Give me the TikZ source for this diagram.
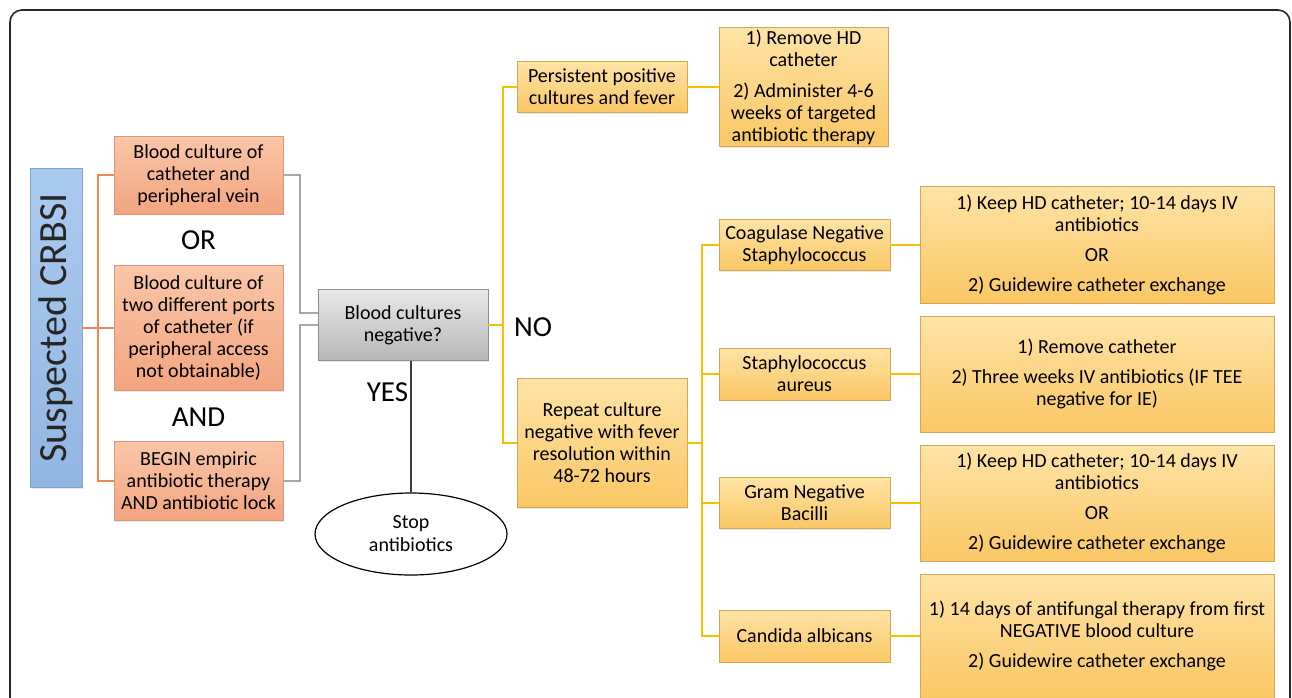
\documentclass[tikz,border=0pt]{standalone}
\usepackage{fontspec}
\setmainfont{Carlito}
\usetikzlibrary{shapes.geometric,shadows,calc}
\definecolor{bluefillA}{HTML}{AACBEE}
\definecolor{bluefillB}{HTML}{92B6E2}
\definecolor{blueline}{HTML}{7FA3CF}
\definecolor{orfillA}{HTML}{F9C6A8}
\definecolor{orfillB}{HTML}{F3A47F}
\definecolor{orline}{HTML}{D9977A}
\definecolor{orconn}{HTML}{EC8A50}
\definecolor{gyfillA}{HTML}{E8E8E8}
\definecolor{gyfillB}{HTML}{B6B6B6}
\definecolor{gyline}{HTML}{8E8E8E}
\definecolor{gyconn}{HTML}{A8A8A8}
\definecolor{ylfillA}{HTML}{FFE3A6}
\definecolor{ylfillB}{HTML}{FAC764}
\definecolor{ylline}{HTML}{CFA95A}
\definecolor{ylconn}{HTML}{F5C000}
\definecolor{darkline}{HTML}{3C3C3C}
\tikzset{
  boxtext/.style={font=\fontsize{20}{22}\selectfont, align=center, inner sep=0pt, text=black},
  basebox/.style={boxtext, rectangle, line width=0.8pt,
     drop shadow={opacity=0.18, shadow xshift=1.2pt, shadow yshift=-1.2pt}},
  bluebox/.style={basebox, draw=blueline, top color=bluefillA, bottom color=bluefillB},
  orbox/.style={basebox, draw=orline, top color=orfillA, bottom color=orfillB, minimum width=169},
  gybox/.style={basebox, draw=gyline, top color=gyfillA, bottom color=gyfillB},
  ylbox/.style={basebox, draw=ylline, top color=ylfillA, bottom color=ylfillB},
  smallyl/.style={ylbox, minimum width=171, minimum height=51},
  bigyl/.style={ylbox, minimum width=354},
  bigword/.style={font=\fontsize{29}{32}\selectfont, inner sep=0pt, text=black},
  orlink/.style={draw=orconn, line width=2pt},
  gylink/.style={draw=gyconn, line width=2pt},
  yllink/.style={draw=ylconn, line width=2pt},
  yeslink/.style={draw=darkline, line width=2pt},
  frameline/.style={draw=black!85, line width=1.6pt, rounded corners=12pt},
}
\begin{document}
\begin{tikzpicture}[x=1pt,y=-1pt]
\useasboundingbox (0,0) rectangle (1292,697);
\path[frameline] (10,710) -- (10,10) -- (1290,10) -- (1290,710);

% left column
\node[bluebox, minimum width=52, minimum height=319] (crbsi) at (56,328) {};
\node[rotate=90, font=\fontsize{40}{42}\selectfont, text=black!85, inner sep=0pt] (crbsitext) at (56,328) {Suspected CRBSI};

\node[orbox, minimum height=78] (A) at (198.5,175) {Blood culture of\\catheter and\\peripheral vein};
\node[bigword] (or1) at (198.5,240) {OR};
\node[orbox, minimum height=125] (B) at (198.5,328) {Blood culture of\\two different ports\\of catheter (if\\peripheral access\\not obtainable)};
\node[bigword] (and1) at (198.5,417) {AND};
\node[orbox, minimum height=79] (C) at (198.5,481) {BEGIN empiric\\antibiotic therapy\\AND antibiotic lock};

% decision
\node[gybox, minimum width=170, minimum height=71] (gray) at (403,325) {Blood cultures\\negative?};
\node[ellipse, draw=black, line width=1.2pt, fill=white, minimum width=192, minimum height=82, boxtext, font=\fontsize{20}{23}\selectfont] (stop) at (411,534) {Stop\\antibiotics};
\node[bigword] (yes) at (387.5,392) {YES};
\node[bigword] (no) at (533,327) {NO};

% middle column
\node[ylbox, minimum width=170, minimum height=51] (pers) at (602,87) {Persistent positive\\cultures and fever};
\node[ylbox, minimum width=169, minimum height=119] (rem) at (803.5,87) {1) Remove HD\\catheter\\[9pt]2) Administer 4-6\\weeks of targeted\\antibiotic therapy};
\node[ylbox, minimum width=170, minimum height=129] (rep) at (602,443) {Repeat culture\\negative with fever\\resolution within\\48-72 hours};

% organisms
\node[smallyl] (coag) at (804.5,245) {Coagulase Negative\\Staphylococcus};
\node[smallyl, minimum height=52] (staph) at (804.5,374) {Staphylococcus\\aureus};
\node[smallyl] (gram) at (804.5,503) {Gram Negative\\Bacilli};
\node[smallyl, minimum height=52] (cand) at (804.5,636) {Candida albicans};

% treatments
\node[bigyl, minimum height=117] (r1) at (1097,244.5) {1) Keep HD catheter; 10-14 days IV\\antibiotics\\[8pt]OR\\[8pt]2) Guidewire catheter exchange};
\node[bigyl, minimum height=116] (r2) at (1097,374) {1) Remove catheter\\[8pt]2) Three weeks IV antibiotics (IF TEE\\negative for IE)};
\node[bigyl, minimum height=116] (r3) at (1097,503) {1) Keep HD catheter; 10-14 days IV\\antibiotics\\[8pt]OR\\[8pt]2) Guidewire catheter exchange};
\node[bigyl, minimum height=124] (r4) at (1097,636) {1) 14 days of antifungal therapy from first\\NEGATIVE blood culture\\[8pt]2) Guidewire catheter exchange};

% connectors: orange
\path[orlink] (crbsi.east) -- (B.west);
\path[orlink] (A.west) -- ++(-16,0) |- (C.west);
% gray
\path[gylink] (A.east) -- ++(17,0) |- ([yshift=12pt]gray.west);
\path[gylink] (C.east) -- ++(17,0) |- (gray.west);
% yes
\path[yeslink] (stop.north) -- (stop.north |- gray.south);
% yellow
\path[yllink] (gray.east) -- ++(15,0);
\path[yllink] (pers.west) -- ++(-14,0) |- (rep.west);
\path[yllink] (pers.east) -- (rem.west);
\path[yllink] (rep.east) -- ++(15,0);
\path[yllink] (coag.west) -- ++(-17,0) |- (cand.west);
\path[yllink] (staph.west) -- ++(-17,0);
\path[yllink] (gram.west) -- ++(-17,0);
\path[yllink] (coag.east) -- (coag.east -| r1.west);
\path[yllink] (staph.east) -- (staph.east -| r2.west);
\path[yllink] (gram.east) -- (gram.east -| r3.west);
\path[yllink] (cand.east) -- (cand.east -| r4.west);
\end{tikzpicture}
\end{document}
